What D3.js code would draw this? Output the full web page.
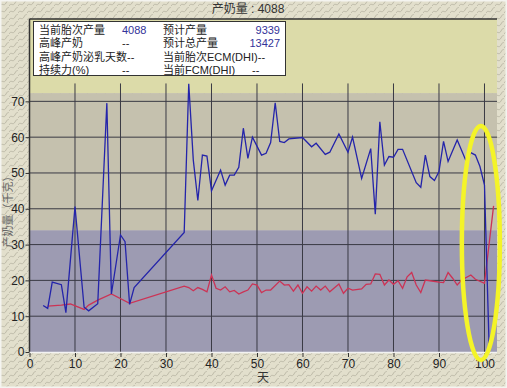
<!DOCTYPE html>
<meta charset="utf-8">
<script src="https://d3js.org/d3.v7.min.js"></script>
<style type="text/css">
body { margin: 0; }
svg { font-family: "Liberation Sans", "Noto Sans CJK SC", sans-serif; }
.axis text { font-size: 12px; fill: #222; }
.axis path { display: none; }
.axis line { stroke: #333; }
.grid line { stroke: #3a3a44; stroke-width: 1px; }
.legend text { font-size: 11px; fill: #222; }
.legend .val { fill: #333399; }
</style>
<body></body>
<script>

// daily milk (blue) and test-day / average (red), kg
var blueDays = [3, 4, 5, 7, 8, 10, 12, 13, 15, 17, 18, 20, 21, 22, 23, 34, 35, 36, 37, 38, 39, 40, 42, 43, 44, 45, 46, 47, 48, 49, 51, 52, 53, 54, 55, 56, 57, 60, 62, 63, 65, 66, 68, 70, 71, 73, 75, 76, 77, 78, 79, 80, 81, 82, 85, 86, 87, 88, 89, 90, 91, 92, 94, 96, 97, 98, 99, 100, 101];
var blueValues = [13.0, 12.2, 19.5, 18.8, 11.0, 40.6, 12.5, 11.5, 13.5, 69.5, 16.2, 32.7, 30.8, 13.3, 18.0, 33.4, 74.9, 53.6, 42.3, 55.0, 54.7, 45.0, 50.8, 46.6, 49.4, 49.4, 51.6, 62.5, 54.1, 60.0, 55.0, 55.5, 58.5, 69.6, 58.8, 58.5, 59.5, 59.9, 57.3, 58.3, 55.2, 55.8, 60.9, 55.8, 60.0, 48.5, 56.8, 38.5, 64.3, 52.2, 54.6, 54.4, 56.6, 56.6, 47.3, 46.0, 55.0, 49.0, 47.9, 50.4, 58.8, 53.2, 59.2, 53.2, 55.7, 55.0, 51.8, 46.6, 2.4];

var redDays = [4, 7, 9, 12, 13, 15, 18, 22, 34, 35, 36, 37, 38, 39, 40, 41, 42, 43, 44, 45, 46, 47, 48, 49, 50, 51, 52, 53, 55, 56, 57, 58, 59, 60, 61, 62, 63, 64, 65, 66, 68, 69, 70, 71, 73, 74, 75, 76, 77, 78, 79, 80, 81, 82, 83, 84, 85, 86, 87, 88, 90, 91, 92, 93, 94, 95, 97, 98, 100, 102];
var redValues = [12.8, 13.1, 13.4, 11.9, 13.1, 14.5, 16.2, 13.6, 18.4, 18.0, 17.1, 18.0, 17.5, 16.8, 21.5, 17.8, 17.3, 18.2, 16.8, 17.2, 16.2, 16.8, 17.3, 19.0, 18.7, 16.6, 17.3, 17.3, 19.8, 18.7, 18.8, 17.0, 18.7, 16.4, 18.2, 17.0, 18.4, 17.3, 18.4, 16.8, 19.0, 16.4, 17.8, 17.3, 17.6, 18.9, 19.0, 21.8, 21.7, 18.7, 20.1, 18.9, 19.9, 17.8, 21.0, 22.2, 18.7, 16.6, 20.1, 19.9, 19.5, 19.4, 22.2, 20.6, 18.7, 20.1, 21.5, 20.3, 19.2, 40.8];

var xTicks = [0, 10, 20, 30, 40, 50, 60, 70, 80, 90, 100];
var yTicks = [0, 10, 20, 30, 40, 50, 60, 70];

// background bands (value ranges)
var bandRanges = [[72.3, 93], [34, 72.3], [0, 34]];
var bandColors = ['#dcdba9', '#c5c1ae', '#9d9bb2'];

// legend rows: [label, value, label, value]
var legendRows = [
  ['当前胎次产量', '4088', '预计产量', '9339'],
  ['高峰产奶', '--', '预计总产量', '13427'],
  ['高峰产奶泌乳天数--', '', '当前胎次ECM(DHI)--', ''],
  ['持续力(%)', '--', '当前FCM(DHI)', '--']
];

var blue = blueDays.map(function(d, i) { return {day: d, value: blueValues[i]}; });
var red = redDays.map(function(d, i) { return {day: d, value: redValues[i]}; });

var W = 507, H = 388;
var margin = {top: 19, right: 10, bottom: 36, left: 29.5};
var width = W - margin.left - margin.right,
    height = H - margin.top - margin.bottom;

var root = d3.select('body').append('svg')
    .attr('width', W)
    .attr('height', H);

// wavy texture for the outer background
var pat = root.append('defs').append('pattern')
    .attr('id', 'tex')
    .attr('width', 9)
    .attr('height', 7)
    .attr('patternUnits', 'userSpaceOnUse');
pat.append('rect').attr('width', 9).attr('height', 7).attr('fill', '#e2dfcc');
pat.append('path')
    .attr('d', 'M0,6 C2,2 4,7 6,3 S9,1 9,1')
    .attr('fill', 'none')
    .attr('stroke', '#bdbaa8')
    .attr('stroke-width', 1);

root.append('rect').attr('width', W).attr('height', H).attr('fill', 'url(#tex)');
root.append('rect').attr('width', W).attr('height', H)
    .attr('fill', 'none').attr('stroke', '#f4f4f0').attr('stroke-width', 3);

// title
root.append('text')
    .attr('x', 248)
    .attr('y', 13)
    .attr('text-anchor', 'middle')
    .style('font-size', '12px')
    .style('fill', '#333')
    .text('产奶量 : 4088');

var svg = root.append('g')
    .attr('transform', 'translate(' + margin.left + ',' + margin.top + ')');

var xScale = d3.scaleLinear().domain([0, 102.75]).range([0, width]);
var yScale = d3.scaleLinear().domain([0, 93]).range([height, 0]);

// bands
svg.selectAll('.band')
    .data(bandRanges)
    .enter().append('rect')
    .attr('class', 'band')
    .attr('x', 0)
    .attr('width', width)
    .attr('y', function(d) { return yScale(d[1]); })
    .attr('height', function(d) { return yScale(d[0]) - yScale(d[1]); })
    .attr('fill', function(d, i) { return bandColors[i]; });

// grid
var grid = svg.append('g').attr('class', 'grid');
grid.selectAll('.hline')
    .data(yTicks.slice(1))
    .enter().append('line')
    .attr('x1', 0).attr('x2', width)
    .attr('y1', function(d) { return yScale(d); })
    .attr('y2', function(d) { return yScale(d); });
grid.selectAll('.vline')
    .data(xTicks.slice(1))
    .enter().append('line')
    .attr('x1', function(d) { return xScale(d); })
    .attr('x2', function(d) { return xScale(d); })
    .attr('y1', yScale(0)).attr('y2', yScale(75));

// frame: dark top + left, light bottom
svg.append('line').attr('x1', 0).attr('x2', width).attr('y1', 0).attr('y2', 0)
    .attr('stroke', '#333').attr('stroke-width', 1.5);
svg.append('line').attr('x1', 0).attr('x2', 0).attr('y1', 0).attr('y2', height)
    .attr('stroke', '#333').attr('stroke-width', 1.5);
svg.append('line').attr('x1', 0).attr('x2', width).attr('y1', height + 0.5).attr('y2', height + 0.5)
    .attr('stroke', '#f2f2f2').attr('stroke-width', 1.5);

// axes
svg.append('g')
    .attr('class', 'x axis')
    .attr('transform', 'translate(0,' + (height + 1) + ')')
    .call(d3.axisBottom(xScale).tickValues(xTicks).tickSize(4).tickPadding(2));

svg.append('g')
    .attr('class', 'y axis')
    .call(d3.axisLeft(yScale).tickValues(yTicks).tickSize(4).tickPadding(1));

// lines
var lineGenerator = d3.line()
    .x(function(d) { return xScale(d.day); })
    .y(function(d) { return yScale(d.value); });

svg.append('path')
    .attr('d', lineGenerator(red))
    .attr('fill', 'none')
    .attr('stroke', '#cc3355')
    .attr('stroke-width', 1.3);

svg.append('path')
    .attr('d', lineGenerator(blue))
    .attr('fill', 'none')
    .attr('stroke', '#2424aa')
    .attr('stroke-width', 1.3);

// legend box
var legend = root.append('g').attr('class', 'legend');
legend.append('rect')
    .attr('x', 33.5).attr('y', 21.5)
    .attr('width', 252).attr('height', 54)
    .attr('fill', '#fff')
    .attr('stroke', '#333');

legendRows.forEach(function(r, i) {
  var y = 34 + i * 13.3;
  legend.append('text').attr('x', 39).attr('y', y).text(r[0]);
  legend.append('text').attr('class', r[1] == '--' ? '' : 'val').attr('x', 122).attr('y', y).text(r[1]);
  legend.append('text').attr('x', 163).attr('y', y).text(r[2]);
  if (r[3] == '--') {
    legend.append('text').attr('x', 252).attr('y', y).text(r[3]);
  } else {
    legend.append('text').attr('class', 'val').attr('x', 280).attr('y', y)
      .attr('text-anchor', 'end').text(r[3]);
  }
});

// axis titles
root.append('text')
    .attr('transform', 'translate(12,209) rotate(-90)')
    .attr('text-anchor', 'middle')
    .style('font-size', '11px')
    .style('fill', '#666')
    .text('产奶量（千克）');

root.append('text')
    .attr('x', 263)
    .attr('y', 382)
    .attr('text-anchor', 'middle')
    .style('font-size', '12px')
    .style('fill', '#333')
    .text('天');

// highlight ellipse
root.append('ellipse')
    .attr('cx', xScale(99.2) + margin.left)
    .attr('cy', 243)
    .attr('rx', 19)
    .attr('ry', 117)
    .attr('fill', 'none')
    .attr('stroke', '#f4f428')
    .attr('stroke-width', 4.5);

</script>
